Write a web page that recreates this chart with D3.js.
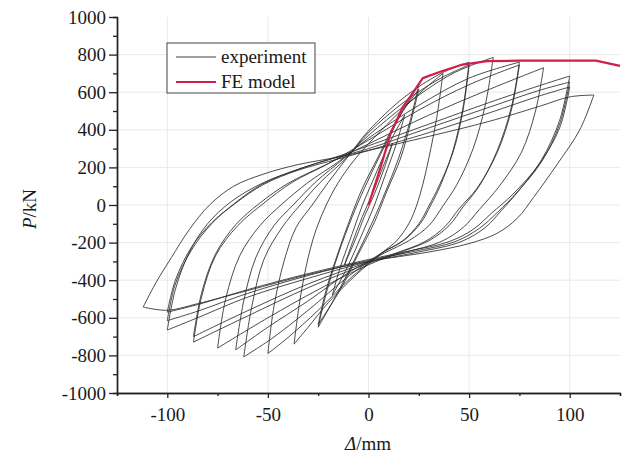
<!DOCTYPE html>
<html>
<head>
<meta charset="utf-8">
<script src="https://cdn.jsdelivr.net/npm/d3@7"></script>
<style>
  html, body { margin: 0; padding: 0; background: #fff; }
  svg { display: block; }
  text { font-family: "Liberation Serif", "Times New Roman", serif; fill: #1a1a1a; }
</style>
</head>
<body>
<svg id="chart" width="624" height="455"></svg>
<script>
// ---------- data ----------
const xDomain = [-125, 125];
const yDomain = [-1000, 1000];
const xTickValues = [-100, -50, 0, 50, 100];
const xMinorTicks = [-125, -75, -25, 25, 75, 125];
const yTickValues = [-1000, -800, -600, -400, -200, 0, 200, 400, 600, 800, 1000];
const yMinorTicks = [-900, -700, -500, -300, -100, 100, 300, 500, 700, 900];
const legendLabels = ["experiment", "FE model"];

// FE model skeleton curve [displacement mm, load kN]
const feModel = [[0,0],[6,200],[11,380],[17,520],[21,580],[27,675],[36,710],[46,745],[59,765],[75,768],[113,768],[125,740]];

// Experimental hysteresis loops [displacement mm, load kN], each starting at its positive peak
const loop01 = [[12,330],[8,200],[3,60],[-2,-60],[-6,-170],[-12,-320],[-8,-200],[-3,-60],[2,60],[6,170],[12,330]];
const loop02 = [[18,480],[14,330],[8,150],[3,0],[-3,-150],[-10,-320],[-18,-480],[-14,-330],[-8,-150],[-3,0],[3,150],[10,320],[18,480]];
const loop03 = [[25,640],[21,460],[15,250],[8,60],[2,-90],[-6,-270],[-15,-460],[-25,-650],[-21,-470],[-15,-260],[-8,-60],[-2,90],[6,270],[15,460],[25,640]];
const loop04 = [[25,615],[21,440],[16,250],[9,70],[3,-90],[-5,-260],[-14,-450],[-25,-635],[-21,-450],[-15,-250],[-9,-70],[-3,90],[5,260],[14,450],[25,615]];
const loop05 = [[37,700],[34,470],[30,250],[27,110],[24,0],[20,-100],[14,-190],[6,-260],[-6,-370],[-20,-520],[-30,-650],[-37,-740],[-34,-500],[-30,-280],[-26,-130],[-21,0],[-15,120],[-7,240],[3,360],[15,490],[27,610],[37,700]];
const loop06 = [[50,760],[47,520],[42,290],[36,110],[31,0],[26,-95],[18,-185],[7,-255],[-8,-380],[-25,-560],[-40,-705],[-50,-790],[-47,-540],[-42,-300],[-36,-120],[-28,0],[-20,120],[-10,260],[0,395],[18,575],[36,700],[50,760]];
const loop07 = [[50,745],[47,505],[42,280],[35,100],[30,-5],[25,-100],[17,-190],[6,-258],[-10,-380],[-30,-560],[-48,-710],[-62,-808],[-58,-540],[-52,-290],[-43,-120],[-34,0],[-24,120],[-11,250],[0,385],[18,550],[36,675],[50,745]];
const loop08 = [[62,785],[58,530],[52,300],[44,110],[37,-5],[30,-110],[20,-190],[8,-255],[-10,-360],[-30,-510],[-50,-650],[-66,-771],[-62,-510],[-56,-280],[-47,-110],[-37,5],[-26,125],[-12,250],[0,370],[20,545],[42,700],[62,785]];
const loop09 = [[75,760],[71,520],[64,290],[55,100],[47,-10],[40,-110],[30,-190],[14,-258],[0,-318],[-25,-450],[-50,-600],[-75,-761],[-71,-500],[-64,-270],[-54,-110],[-43,5],[-30,120],[-15,230],[0,355],[25,530],[50,675],[75,760]];
const loop10 = [[75,745],[71,505],[64,280],[54,90],[45,-20],[38,-115],[28,-195],[12,-262],[0,-310],[-30,-440],[-60,-590],[-87,-729],[-83,-490],[-76,-270],[-65,-110],[-52,10],[-38,120],[-20,220],[0,345],[25,505],[50,640],[75,745]];
const loop11 = [[87,730],[83,500],[76,280],[65,100],[55,-25],[47,-120],[36,-195],[18,-252],[0,-305],[-30,-420],[-60,-562],[-87,-700],[-83,-470],[-76,-260],[-66,-105],[-54,10],[-40,115],[-22,210],[0,325],[30,478],[60,615],[87,730]];
const loop12 = [[100,686],[95,450],[86,240],[75,80],[66,-30],[58,-120],[46,-195],[25,-250],[0,-302],[-30,-390],[-60,-490],[-85,-600],[-100,-665],[-96,-450],[-89,-250],[-80,-100],[-68,20],[-52,120],[-32,200],[-12,270],[0,315],[30,430],[60,545],[85,635],[100,686]];
const loop13 = [[100,654],[95,430],[86,230],[74,70],[64,-40],[55,-125],[43,-195],[22,-248],[0,-295],[-30,-375],[-60,-470],[-85,-565],[-100,-615],[-96,-420],[-88,-240],[-78,-100],[-67,5],[-53,110],[-35,190],[-15,255],[0,300],[30,410],[60,520],[85,610],[100,654]];
const loop14 = [[100,628],[95,410],[85,220],[72,60],[61,-45],[52,-130],[40,-195],[20,-245],[0,-290],[-30,-365],[-60,-450],[-85,-530],[-100,-570],[-96,-400],[-88,-225],[-78,-95],[-66,10],[-52,110],[-35,185],[-15,245],[0,290],[30,385],[60,490],[85,580],[100,628]];
const loop15 = [[112,585],[105,400],[94,220],[82,40],[74,-70],[64,-150],[50,-205],[30,-250],[0,-300],[-30,-370],[-60,-455],[-85,-525],[-100,-560],[-112,-543],[-106,-420],[-98,-280],[-89,-130],[-79,0],[-67,100],[-52,165],[-35,215],[-15,255],[0,290],[30,365],[60,445],[85,525],[100,575],[112,585]];
const experimentLoops = [loop01, loop02, loop03, loop04, loop05, loop06, loop07, loop08, loop09, loop10, loop11, loop12, loop13, loop14, loop15];

// ---------- drawing ----------
const svg = d3.select("#chart");
const x = d3.scaleLinear().domain(xDomain).range([117, 620]);
const y = d3.scaleLinear().domain(yDomain).range([393, 17]);
const fmt = d => String(d);

// faint grid
const grid = svg.append("g").attr("stroke", "#e9e9e9").attr("stroke-width", 1);
grid.selectAll("line.gx").data(xTickValues).join("line")
  .attr("x1", d => x(d)).attr("x2", d => x(d)).attr("y1", y(1000)).attr("y2", y(-1000));
grid.selectAll("line.gy").data(yTickValues.filter(v => v > -1000 && v < 1000)).join("line")
  .attr("x1", x(-125)).attr("x2", x(125)).attr("y1", d => y(d)).attr("y2", d => y(d));

// experiment loops: each split into two half-cycles at the negative peak so peaks stay sharp
const line = d3.line().x(d => x(d[0])).y(d => y(d[1])).curve(d3.curveCatmullRom.alpha(0.5));
const expG = svg.append("g").attr("fill", "none").attr("stroke", "#2b2b2b").attr("stroke-width", 0.85);
experimentLoops.forEach(loop => {
  const iNeg = d3.minIndex(loop, d => d[0]);
  expG.append("path").attr("d", line(loop.slice(0, iNeg + 1)));
  expG.append("path").attr("d", line(loop.slice(iNeg)));
});

// FE model
svg.append("path").datum(feModel)
  .attr("fill", "none").attr("stroke", "#d01f4b").attr("stroke-width", 2.2)
  .attr("stroke-linejoin", "round")
  .attr("d", d3.line().x(d => x(d[0])).y(d => y(d[1])));

// axes
const axStyle = g => {
  g.select(".domain").attr("stroke", "#222").attr("stroke-width", 1.4);
  g.selectAll(".tick line").attr("stroke", "#222").attr("stroke-width", 1.3);
  g.selectAll("text").attr("font-size", 19).attr("font-family", "Liberation Serif, serif").attr("fill", "#1a1a1a");
};
svg.append("g").attr("transform", `translate(0,${y(-1000)})`)
  .call(d3.axisBottom(x).tickValues(xMinorTicks).tickSize(3).tickFormat(""))
  .call(axStyle);
svg.append("g").attr("transform", `translate(0,${y(-1000)})`)
  .call(d3.axisBottom(x).tickValues(xTickValues).tickSize(5).tickSizeOuter(0).tickPadding(10).tickFormat(fmt))
  .call(axStyle);
svg.append("g").attr("transform", `translate(${x(-125)},0)`)
  .call(d3.axisLeft(y).tickValues(yMinorTicks).tickSize(4).tickFormat(""))
  .call(axStyle);
svg.append("g").attr("transform", `translate(${x(-125)},0)`)
  .call(d3.axisLeft(y).tickValues(yTickValues).tickSize(8).tickSizeOuter(0).tickPadding(3).tickFormat(fmt))
  .call(axStyle);

// axis titles
const yt = svg.append("text").attr("transform", "translate(36,209) rotate(-90)")
  .attr("text-anchor", "middle").attr("font-size", 19);
yt.append("tspan").attr("font-style", "italic").text("P");
yt.append("tspan").text("/kN");
const xt = svg.append("text").attr("x", 368).attr("y", 450)
  .attr("text-anchor", "middle").attr("font-size", 19);
xt.append("tspan").attr("font-style", "italic").text("Δ");
xt.append("tspan").text("/mm");

// legend
const lg = svg.append("g");
lg.append("rect").attr("x", 167).attr("y", 43).attr("width", 148).attr("height", 50)
  .attr("fill", "#fff").attr("stroke", "#444").attr("stroke-width", 1);
const legendColors = ["#2b2b2b", "#d01f4b"];
const legendWidths = [0.9, 2.2];
legendLabels.forEach((lab, i) => {
  const yy = 57 + i * 25;
  lg.append("line").attr("x1", 176).attr("x2", 216).attr("y1", yy).attr("y2", yy)
    .attr("stroke", legendColors[i]).attr("stroke-width", legendWidths[i]);
  lg.append("text").attr("x", 221).attr("y", yy).attr("dy", "0.32em")
    .attr("font-size", 19).text(lab);
});
</script>
</body>
</html>
